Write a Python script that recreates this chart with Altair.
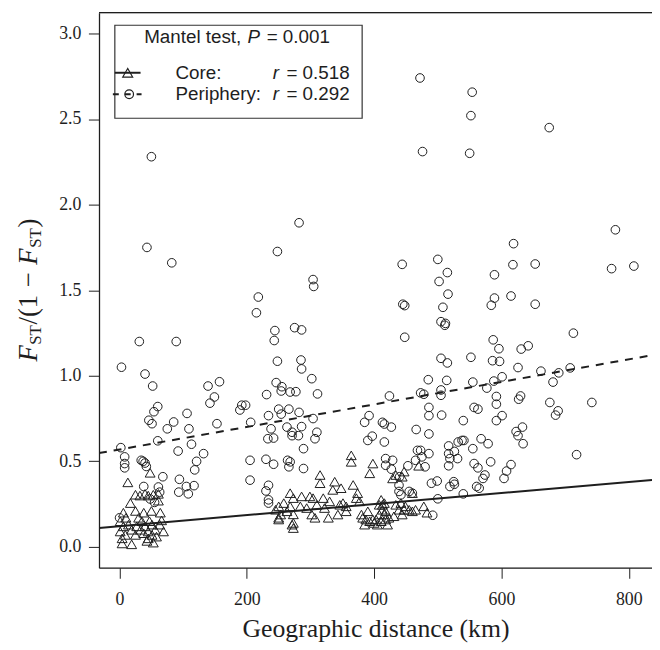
import altair as alt
import pandas as pd

# ---- data ----
core_dist = [48, 13, 25, 32, 40, 45, 53, 61, 17, 61, 6, 25, 38, 50, 64, 66, 1, 6, 14, 19, 27, 35, 40, 45, 51, 56, 63, 69, 1, 9, 25, 38, 51, 58, 4, 19, 43, 53, 4, 45, 30, 10, 33, 47,
             250, 258, 268, 273, 250, 271, 273, 245, 250, 253, 268, 273, 273, 263, 284, 286, 294, 299, 302, 307, 304, 310, 315, 315, 320, 322, 328, 330, 335, 338, 343, 346, 348, 351, 356, 356, 367, 372, 374, 377, 380, 382, 385, 398, 364, 364, 398, 393,
             408, 411, 413, 416, 418, 411, 405, 421, 413, 408, 416, 418, 403, 400, 423, 434, 439, 449, 455, 460, 444, 431, 442, 447, 465, 434, 447, 444, 429, 470, 460, 478, 483, 390, 387, 393]
core_fst = [0.433, 0.377, 0.305, 0.30, 0.31, 0.30, 0.305, 0.31, 0.256, 0.27, 0.20, 0.21, 0.20, 0.21, 0.20, 0.155, 0.15, 0.12, 0.13, 0.10, 0.12, 0.15, 0.12, 0.09, 0.13, 0.10, 0.13, 0.09, 0.09, 0.07, 0.07, 0.08, 0.07, 0.06, 0.02, 0.015, 0.035, 0.025, 0.05, 0.05, 0.17, 0.17, 0.10, 0.15,
            0.237, 0.256, 0.314, 0.285, 0.17, 0.13, 0.19, 0.217, 0.16, 0.189, 0.237, 0.14, 0.11, 0.208, 0.237, 0.295, 0.227, 0.295, 0.189, 0.17, 0.285, 0.246, 0.42, 0.372, 0.285, 0.227, 0.17, 0.266, 0.333, 0.381, 0.189, 0.246, 0.343, 0.256, 0.208, 0.237, 0.362, 0.285, 0.314, 0.266, 0.189, 0.17, 0.13, 0.16, 0.535, 0.497, 0.487, 0.43,
            0.246, 0.275, 0.217, 0.189, 0.16, 0.15, 0.13, 0.13, 0.246, 0.189, 0.256, 0.208, 0.16, 0.14, 0.17, 0.246, 0.217, 0.237, 0.217, 0.208, 0.189, 0.179, 0.256, 0.217, 0.217, 0.42, 0.44, 0.41, 0.40, 0.474, 0.314, 0.237, 0.20, 0.208, 0.16, 0.15]

peri_dist = [50, 43, 82, 31, 89, 3, 40, 52, 139, 157, 149, 142, 60, 54, 106, 46, 51, 85, 75, 109, 153, 60, 113, 92, 2, 132, 8, 8, 8, 34, 37, 40, 42, 121, 118, 68, 94, 105, 117, 93, 108, 38, 61, 63, 48, 55, 0,
             282, 248, 304, 305, 218, 215, 244, 275, 286, 243, 248, 285, 286, 302, 246, 255, 254, 268, 277, 231, 311, 192, 198, 189,
             250, 266, 282, 254, 234, 206, 238, 263, 271, 271, 281, 286, 304, 310, 307, 233, 242, 289, 205, 230, 242, 264, 268, 266, 289, 205, 234, 230, 234, 234,
             385, 392, 413, 416, 427, 390, 397, 416, 424, 473, 478, 486, 486, 466, 486, 418, 429, 418, 427, 453, 468, 473, 475, 480, 486, 465, 440, 439, 439, 442, 455, 460, 445, 448, 448, 485, 472, 476, 444,
             554, 552, 675, 550, 779, 619, 500, 515, 502, 618, 653, 773, 808, 516, 589, 589, 615,
             508, 505, 512, 511, 584, 653, 713, 587, 596, 631, 642, 505, 515, 552, 586, 597, 626, 662, 690, 708, 514, 555, 577, 588, 601, 681, 505, 505, 592, 592, 627, 630, 676, 689, 685, 742, 557, 563, 592, 601, 623, 633, 626, 634, 718, 615, 608, 604,
             506, 540, 517, 517, 519, 517, 526, 531, 532, 538, 541, 555, 568, 579, 557, 563, 574, 571, 583, 490, 499, 519, 525, 526, 561, 565, 540, 500, 492]
peri_fst = [2.28, 1.75, 1.66, 1.20, 1.20, 1.05, 1.01, 0.94, 0.94, 0.965, 0.876, 0.84, 0.82, 0.79, 0.78, 0.74, 0.72, 0.73, 0.69, 0.69, 0.72, 0.62, 0.60, 0.56, 0.58, 0.545, 0.526, 0.487, 0.462, 0.506, 0.50, 0.49, 0.47, 0.50, 0.45, 0.41, 0.395, 0.353, 0.358, 0.32, 0.31, 0.353, 0.35, 0.32, 0.28, 0.26, 0.17,
            1.894, 1.726, 1.562, 1.522, 1.46, 1.368, 1.264, 1.281, 1.268, 1.206, 1.085, 1.092, 1.04, 0.983, 0.96, 0.936, 0.911, 0.905, 0.907, 0.89, 0.894, 0.828, 0.828, 0.80,
            0.805, 0.805, 0.786, 0.776, 0.767, 0.728, 0.69, 0.70, 0.67, 0.65, 0.65, 0.703, 0.75, 0.67, 0.632, 0.632, 0.636, 0.574, 0.506, 0.512, 0.483, 0.506, 0.497, 0.468, 0.458, 0.39, 0.36, 0.327, 0.275, 0.256,
            0.728, 0.767, 0.728, 0.718, 0.70, 0.622, 0.647, 0.613, 0.882, 0.90, 0.892, 0.815, 0.767, 0.686, 0.66, 0.516, 0.506, 0.477, 0.454, 0.474, 0.564, 0.564, 0.526, 0.468, 0.545, 0.506, 0.41, 0.36, 0.324, 0.304, 0.324, 0.314, 1.418, 1.41, 1.225, 0.977, 2.74, 2.31, 1.651,
            2.657, 2.52, 2.45, 2.30, 1.853, 1.772, 1.68, 1.603, 1.551, 1.649, 1.653, 1.626, 1.641, 1.477, 1.59, 1.454, 1.466,
            1.40, 1.316, 1.306, 1.295, 1.412, 1.418, 1.249, 1.21, 1.158, 1.156, 1.175, 1.102, 1.075, 1.108, 1.088, 1.084, 1.048, 1.027, 1.017, 1.046, 0.973, 0.963, 0.928, 0.969, 0.994, 0.963, 0.917, 0.886, 0.879, 0.834, 0.863, 0.882, 0.844, 0.795, 0.77, 0.844, 0.815, 0.805, 0.738, 0.767, 0.674, 0.70, 0.65, 0.603, 0.539, 0.481, 0.443, 0.40,
            0.77, 0.738, 0.59, 0.545, 0.516, 0.474, 0.558, 0.516, 0.613, 0.622, 0.622, 0.574, 0.632, 0.603, 0.487, 0.462, 0.42, 0.40, 0.497, 0.372, 0.385, 0.353, 0.381, 0.366, 0.353, 0.343, 0.31, 0.281, 0.185]

# fitted lines (end points at the plot edges)
line_dist = [-32.3, 836.5]
core_line = [0.111, 0.391]
peri_line = [0.548, 1.12]

x_ticks = [0, 200, 400, 600, 800]
y_ticks = [0.0, 0.5, 1.0, 1.5, 2.0, 2.5, 3.0]

W, H = 559, 561
INK = "#1e1e1e"
SERIF = "Liberation Serif"
SANS = "Liberation Sans"

core_df = pd.DataFrame({"d": core_dist, "f": core_fst})
peri_df = pd.DataFrame({"d": peri_dist, "f": peri_fst})
lines_df = pd.DataFrame({"d": line_dist * 2, "f": core_line + peri_line,
                         "g": ["core", "core", "peri", "peri"]})
one = pd.DataFrame({"a": [0]})

xs = alt.Scale(domain=[-32.3, 836.5], nice=False, zero=False)
ys = alt.Scale(domain=[-0.1214, 3.1214], nice=False, zero=False)

xax = alt.Axis(values=x_ticks, grid=False, tickSize=10.7, tickColor=INK, domainColor=INK,
               domainWidth=1.3, tickWidth=1, labelFont=SERIF, labelFontSize=18, labelColor=INK,
               labelPadding=13, title="Geographic distance (km)", titleFont=SERIF,
               titleFontSize=26, titleFontWeight="normal", titleColor=INK, titlePadding=7)
yax = alt.Axis(values=y_ticks, format=".1f", grid=False, tickSize=10.7, tickColor=INK,
               domainColor=INK, domainWidth=1.3, tickWidth=1, labelFont=SERIF, labelFontSize=18,
               labelColor=INK, labelPadding=7.6, title=None)

core_pts = alt.Chart(core_df).mark_point(shape="triangle-up", filled=False, size=100,
                                         strokeWidth=1, color=INK, opacity=1).encode(
    x=alt.X("d:Q", scale=xs, axis=xax), y=alt.Y("f:Q", scale=ys, axis=yax))
peri_pts = alt.Chart(peri_df).mark_point(shape="circle", filled=False, size=76,
                                         strokeWidth=1, color=INK, opacity=1).encode(
    x=alt.X("d:Q", scale=xs), y=alt.Y("f:Q", scale=ys))

core_ln = alt.Chart(lines_df).transform_filter(alt.datum.g == "core").mark_line(
    color=INK, strokeWidth=2, clip=True).encode(x=alt.X("d:Q", scale=xs), y=alt.Y("f:Q", scale=ys))
peri_ln = alt.Chart(lines_df).transform_filter(alt.datum.g == "peri").mark_line(
    color=INK, strokeWidth=2, strokeDash=[8, 7], clip=True).encode(
    x=alt.X("d:Q", scale=xs), y=alt.Y("f:Q", scale=ys))

top_rule = alt.Chart(one).mark_rule(color=INK, strokeWidth=1.3).encode(
    x=alt.value(0), x2=alt.value(W), y=alt.value(0))

# legend
leg_box = alt.Chart(one).mark_rect(fill="white", stroke="#333", strokeWidth=1.2).encode(
    x=alt.value(16), x2=alt.value(266), y=alt.value(12.7), y2=alt.value(106.7))


def txt(s, x, y, font=SANS, size=19, style="normal", align="left", baseline="middle"):
    return alt.Chart(one).mark_text(text=s, font=font, fontSize=size, fontStyle=style,
                                    align=align, baseline=baseline, color=INK).encode(
        x=alt.value(x), y=alt.value(y))


leg_title = [txt("Mantel test,", 45.7, 25), txt("P", 150, 25, style="italic"),
             txt("= 0.001", 169.5, 25)]
leg_core_line = alt.Chart(one).mark_rule(color=INK, strokeWidth=2).encode(
    x=alt.value(16), x2=alt.value(42), y=alt.value(60.7))
leg_core_pt = alt.Chart(one).mark_point(shape="triangle-up", filled=False, size=100,
                                        strokeWidth=1.2, color=INK, opacity=1).encode(
    x=alt.value(29), y=alt.value(60.7))
leg_peri_line = alt.Chart(one).mark_rule(color=INK, strokeWidth=2, strokeDash=[6, 6]).encode(
    x=alt.value(14), x2=alt.value(43), y=alt.value(82.4))
leg_peri_pt = alt.Chart(one).mark_point(shape="circle", filled=False, size=76,
                                        strokeWidth=1.2, color=INK, opacity=1).encode(
    x=alt.value(30.5), y=alt.value(82.4))
leg_rows = [txt("Core:", 77.3, 60.7), txt("r", 175.7, 60.7, style="italic"),
            txt("= 0.518", 253.3, 60.7, align="right"),
            txt("Periphery:", 77.3, 82.4), txt("r", 175.7, 82.4, style="italic"),
            txt("= 0.292", 253.3, 82.4, align="right")]


# y axis title  F_ST / (1 - F_ST), rotated
def ytxt(s, dx, dy=0, size=27, style="normal"):
    return alt.Chart(one).mark_text(text=s, font=SERIF, fontSize=size, fontStyle=style,
                                    angle=270, align="left", baseline="alphabetic",
                                    dx=dx, dy=dy, color=INK).encode(
        x=alt.value(-63), y=alt.value(352.7))


ytitle = [ytxt("F", 0, style="italic"), ytxt("ST", 17, dy=4.5, size=17),
          ytxt("/(1", 37.5), ytxt("\u2212", 75), ytxt("F", 98, style="italic"),
          ytxt("ST", 115, dy=4.5, size=17), ytxt(")", 135.5)]

chart = alt.layer(
    core_pts, peri_pts, core_ln, peri_ln, top_rule, leg_box, *leg_title,
    leg_core_line, leg_core_pt, leg_peri_line, leg_peri_pt, *leg_rows, *ytitle
).properties(
    width=W, height=H,
    autosize=alt.AutoSizeParams(type="none"),
    padding={"left": 92, "top": 1.3, "right": 0, "bottom": 75},
).configure_view(stroke=None).configure(background="white")

chart.save("out.html", embed_options={"renderer": "svg", "actions": False})
